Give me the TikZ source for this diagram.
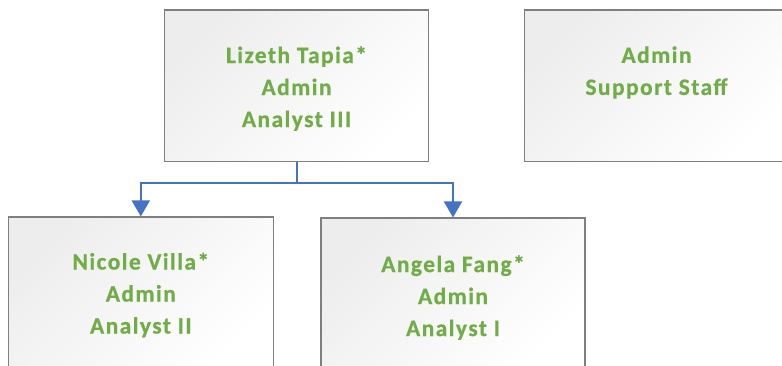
\documentclass[tikz,border=0pt]{standalone}
\usepackage{fontspec}
\setmainfont{Carlito}
\newfontfamily\boxfont[LetterSpace=6, BoldFeatures={FakeBold=0.6}]{Carlito}
\usetikzlibrary{arrows.meta,calc}
\definecolor{boxgray}{HTML}{7F7F7F}
\definecolor{txtgreen}{HTML}{70AD47}
\definecolor{linkblue}{HTML}{4472C4}
\tikzset{
  orgbox/.style={draw=boxgray, line width=1.6pt, left color=black!7, right color=white, shading angle=45,
    minimum width=#1, minimum height=151.5pt, inner sep=0pt},
  orgbox/.default=264pt,
  orgtext/.style={inner sep=0pt, align=center,
    font=\boxfont\fontsize{23.5}{32}\selectfont\bfseries, text=txtgreen},
  link/.style={draw=linkblue, line width=2pt, -{Triangle[width=18pt,length=16pt]}}
}
\begin{document}
\begin{tikzpicture}[x=1pt,y=-1pt]
\useasboundingbox (0,0) rectangle (782,365);
\clip (0,0) rectangle (782,365);
\fill[white] (0,0) rectangle (782,365);
\node[orgbox] (top) at (296.5,85.8) {};
\node[orgbox] (staff) at (656.5,85.8) {};
\node[orgbox=265pt] (nv) at (140.8,293) {};
\node[orgbox] (af) at (453,294) {};
\node[orgtext] (toptext) at (296.5,88.5) {Lizeth Tapia*\\Admin\\Analyst III};
\node[orgtext] (stafftext) at (656.5,72.5) {Admin\\Support Staff};
\node[orgtext] (nvtext) at (140.8,295) {Nicole Villa*\\Admin\\Analyst II};
\node[orgtext] (aftext) at (453,297.5) {Angela Fang*\\Admin\\Analyst I};
\coordinate (mid) at ($(top.south)+(0,21)$);
\draw[link] (top.south) -- (mid) -| (nv.north);
\draw[link] (top.south) -- (mid) -| (af.north);
\end{tikzpicture}
\end{document}
